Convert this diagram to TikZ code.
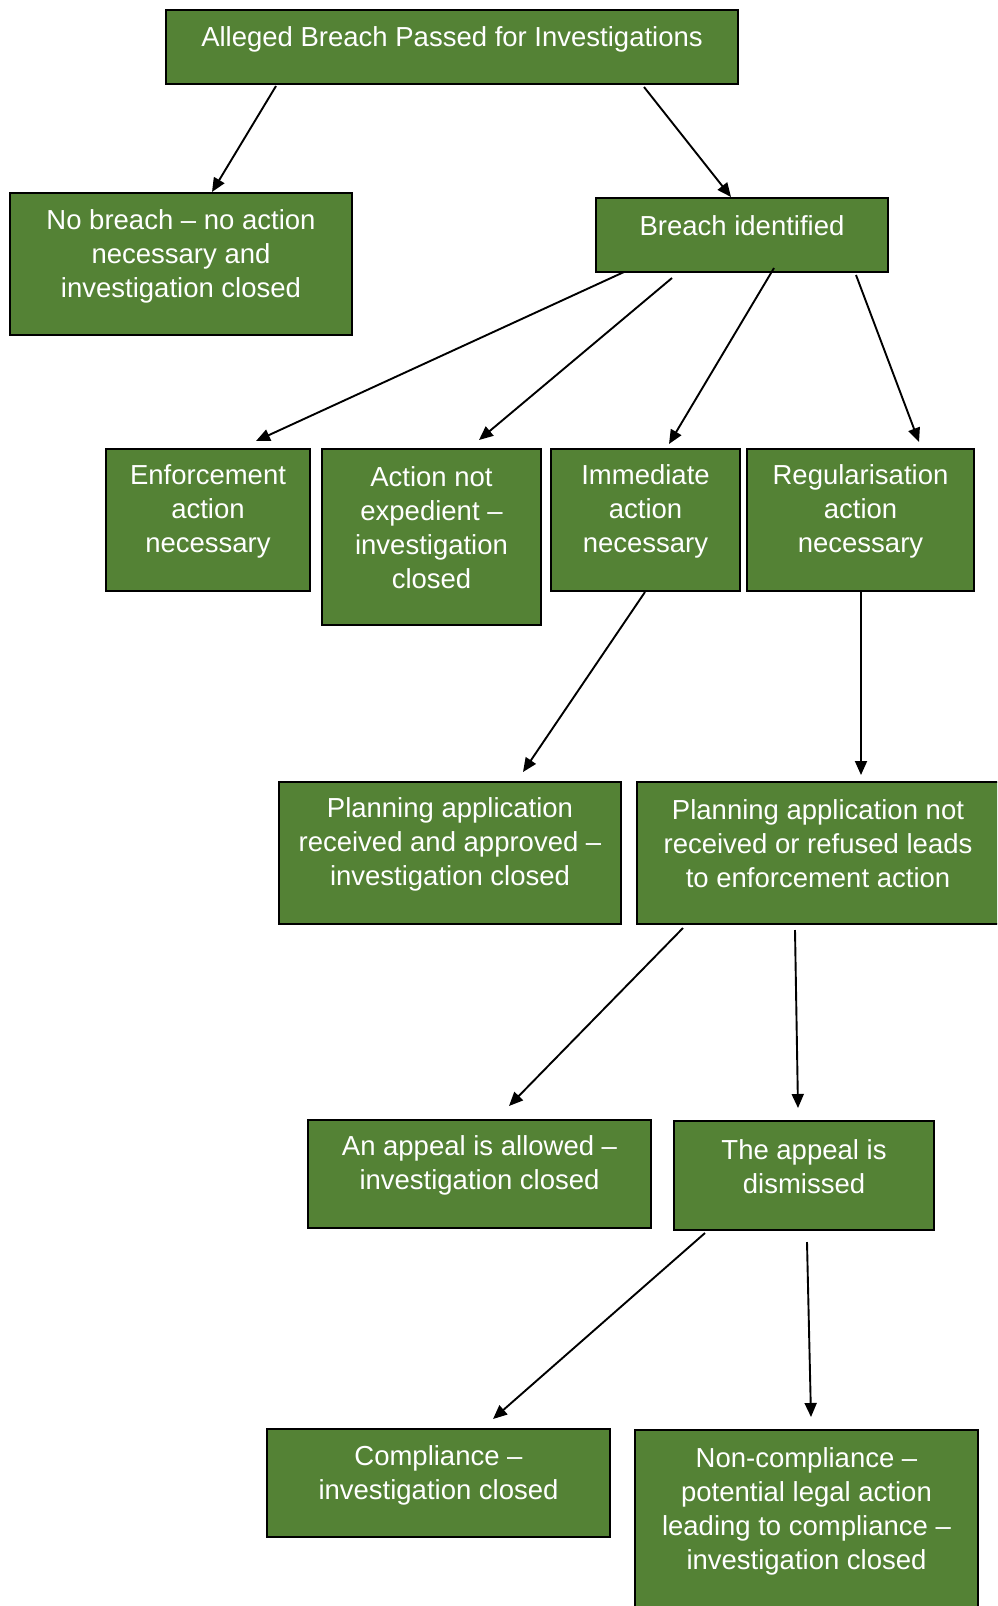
\documentclass[tikz,border=0pt]{standalone}
\usepackage{fontspec}
\setmainfont{Liberation Sans}
\usetikzlibrary{arrows.meta}
\definecolor{boxgreen}{RGB}{84,130,53}
\tikzset{
  box/.style={draw=black, line width=1.4pt, fill=boxgreen, inner sep=0pt, rectangle},
  txt/.style={text=white, align=center, font=\fontsize{27.5}{34}\selectfont, inner sep=0pt},
  arr/.style={line width=1.9pt, -{Triangle[length=14pt,width=12pt]}}
}
\begin{document}
\begin{tikzpicture}[x=1pt,y=-1pt]
\useasboundingbox (0,0) rectangle (997,1606);
\clip (0,0) rectangle (997,1606);
% boxes
\node[box, minimum width=572pt, minimum height=74pt] (al) at (452,47) {};
\node[box, minimum width=342pt, minimum height=142pt] (nb) at (181,264) {};
\node[box, minimum width=292pt, minimum height=74pt] (bi) at (742,235) {};
\node[box, minimum width=204pt, minimum height=142pt] (ea) at (208,520) {};
\node[box, minimum width=219pt, minimum height=176pt] (an) at (431.5,537) {};
\node[box, minimum width=189pt, minimum height=142pt] (ia) at (645.5,520) {};
\node[box, minimum width=227pt, minimum height=142pt] (ra) at (860.5,520) {};
\node[box, minimum width=342pt, minimum height=142pt] (pa) at (450,853) {};
\node[box, minimum width=376pt, minimum height=142pt] (pn) at (825,853) {};
\node[box, minimum width=343pt, minimum height=108pt] (aa) at (479.5,1174) {};
\node[box, minimum width=260pt, minimum height=109pt] (ad) at (804,1175.5) {};
\node[box, minimum width=343pt, minimum height=108pt] (co) at (438.5,1483) {};
\node[box, minimum width=343pt, minimum height=190pt] (nc) at (806.5,1525) {};
% texts
\node[txt] (tal) at (452,39) {Alleged Breach Passed for Investigations};
\node[txt] (tnb) at (181,256) {No breach -- no action\\necessary and\\investigation closed};
\node[txt] (tbi) at (742,226) {Breach identified};
\node[txt] (tea) at (208,511) {Enforcement\\action\\necessary};
\node[txt] (tan) at (431.5,528) {Action not\\expedient --\\investigation\\closed};
\node[txt] (tia) at (645.5,511) {Immediate\\action\\necessary};
\node[txt] (tra) at (860.5,511) {Regularisation\\action\\necessary};
\node[txt] (tpa) at (450,844) {Planning application\\received and approved --\\investigation closed};
\node[txt] (tpn) at (818,844) {Planning application not\\received or refused leads\\to enforcement action};
\node[txt] (taa) at (479.5,1165.5) {An appeal is allowed --\\investigation closed};
\node[txt] (tad) at (804,1166.5) {The appeal is\\dismissed};
\node[txt] (tco) at (438.5,1475.5) {Compliance --\\investigation closed};
\node[txt] (tnc) at (806.5,1511.5) {Non-compliance --\\potential legal action\\leading to compliance --\\investigation closed};
% arrow end points
\coordinate (a1s) at (276,86);  \coordinate (a1e) at (212,192);
\coordinate (a2s) at (644,87);  \coordinate (a2e) at (731,197);
\coordinate (a3s) at (624,272); \coordinate (a3e) at (256,441);
\coordinate (a4s) at (672,278); \coordinate (a4e) at (479,440);
\coordinate (a5s) at (774,268); \coordinate (a5e) at (669,444);
\coordinate (a6s) at (856,275); \coordinate (a6e) at (919,442);
\coordinate (a7s) at (645,592); \coordinate (a7e) at (523,772);
\coordinate (a8s) at (861,592); \coordinate (a8e) at (861,775);
\coordinate (a9s) at (683,928); \coordinate (a9e) at (509,1106);
\coordinate (a10s) at (795,930); \coordinate (a10e) at (798,1108);
\coordinate (a11s) at (705,1233); \coordinate (a11e) at (493,1419);
\coordinate (a12s) at (807,1242); \coordinate (a12e) at (811,1417);
\foreach \i in {1,...,12} \draw[arr] (a\i s) -- (a\i e);
\end{tikzpicture}
\end{document}
